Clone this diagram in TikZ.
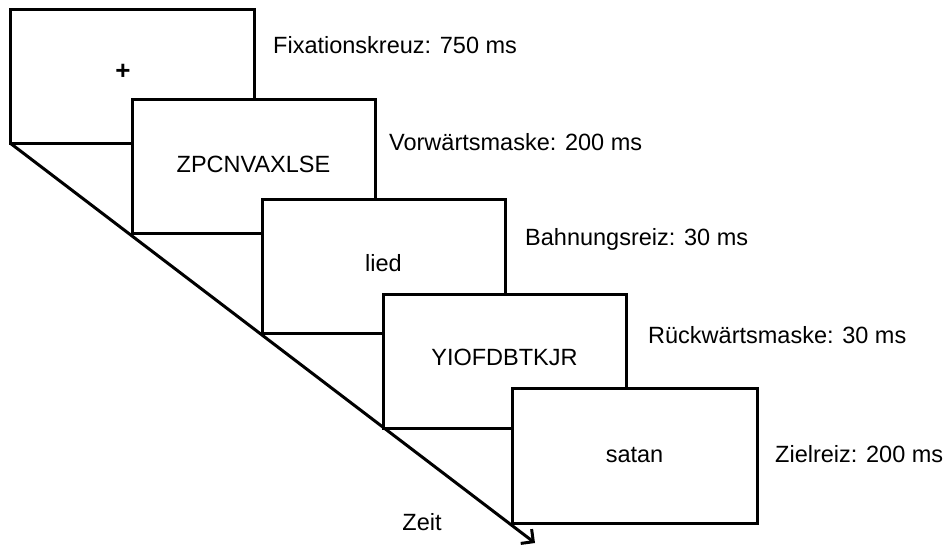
\documentclass[tikz,border=0pt]{standalone}
\usepackage{fontspec}
\setmainfont{Liberation Sans}
\usetikzlibrary{arrows.meta}
\begin{document}
\begin{tikzpicture}[x=1pt,y=-1pt,
  framebox/.style={draw,fill=white,line width=3pt,line join=miter,inner sep=0pt,outer sep=0pt,
    minimum width=243pt,minimum height=134pt,anchor=north west},
  txt/.style={font=\fontsize{23.5}{28}\selectfont,inner sep=0pt,anchor=base},
  lbl/.style={font=\fontsize{23.5}{28}\selectfont,inner sep=0pt,anchor=base west}]
\useasboundingbox (0,0) rectangle (947,544);
\coordinate (start) at (10,143);
\coordinate (tip) at (535,543);
\draw[line width=3pt,-{Straight Barb[length=9pt,width=18pt]}] (start) -- (tip);
\node[framebox,minimum width=244pt] (b1) at (10,9) {};
\node[framebox] (b2) at (132,99) {};
\node[framebox] (b3) at (262,199) {};
\node[framebox] (b4) at (383,294) {};
\node[framebox,minimum width=245pt,minimum height=135pt] (b5) at (512,388) {};
\node[font=\fontsize{26}{30}\selectfont\bfseries,inner sep=0pt] (t1) at (123,72) {+};
\node[txt] (t2) at (253.5,172) {ZPCNVAXLSE};
\node[txt] (t3) at (383.5,271) {lied};
\node[txt] (t4) at (504.5,365) {YIOFDBTKJR};
\node[txt] (t5) at (634.5,462) {satan};
\node[lbl] (l1) at (273,53) {Fixationskreuz: 750 ms};
\node[lbl] (l2) at (389,150) {Vorwärtsmaske: 200 ms};
\node[lbl] (l3) at (525,245) {Bahnungsreiz: 30 ms};
\node[lbl] (l4) at (648,343) {Rückwärtsmaske: 30 ms};
\node[lbl] (l5) at (775,462) {Zielreiz: 200 ms};
\node[txt] (zeit) at (422,530) {Zeit};
\end{tikzpicture}
\end{document}
